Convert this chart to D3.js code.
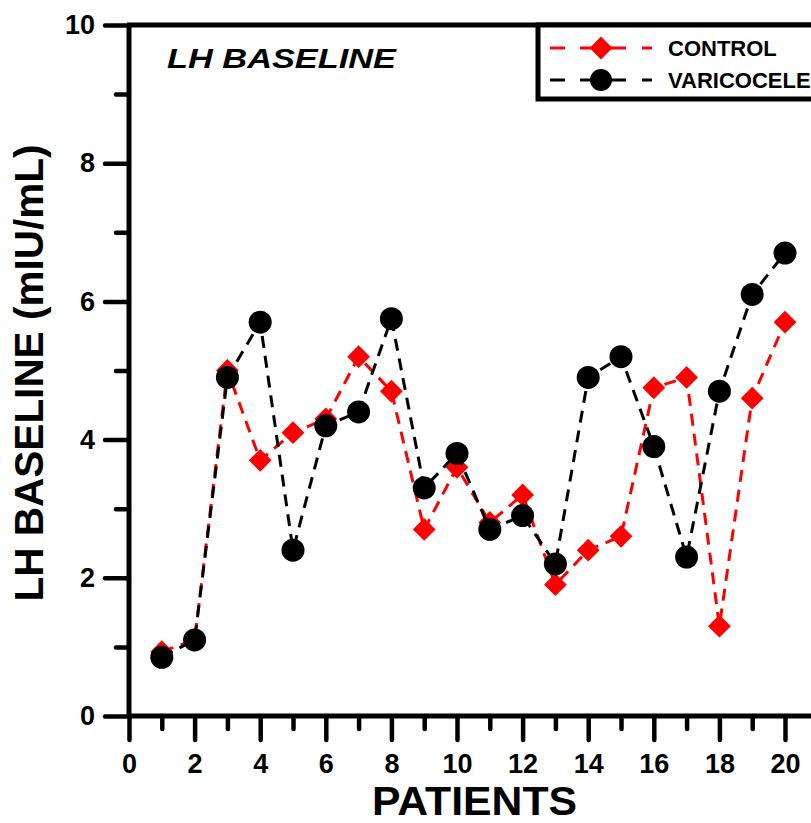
<!DOCTYPE html>
<html>
<head>
<meta charset="utf-8">
<script src="https://cdn.jsdelivr.net/npm/d3@7"></script>
<style>
  body { margin: 0; background: #fff; }
  text { font-family: Arial, "Liberation Sans", sans-serif; font-weight: bold; }
</style>
</head>
<body>
<div class="chart"></div>
<script>
// data
var patients = [1, 2, 3, 4, 5, 6, 7, 8, 9, 10, 11, 12, 13, 14, 15, 16, 17, 18, 19, 20];
var control = [0.93, 1.1, 5.0, 3.7, 4.1, 4.3, 5.2, 4.7, 2.7, 3.6, 2.8, 3.2, 1.9, 2.4, 2.6, 4.75, 4.9, 1.3, 4.6, 5.7];
var varicocele = [0.85, 1.1, 4.9, 5.7, 2.4, 4.2, 4.4, 5.75, 3.3, 3.8, 2.7, 2.9, 2.2, 4.9, 5.2, 3.9, 2.3, 4.7, 6.1, 6.7];
var xMajor = [0, 2, 4, 6, 8, 10, 12, 14, 16, 18, 20];
var xMinor = [1, 3, 5, 7, 9, 11, 13, 15, 17, 19];
var yMajor = [0, 2, 4, 6, 8, 10];
var yMinor = [1, 3, 5, 7, 9];

var width = 811, height = 823;
var plotLeft = 129, plotTop = 25, plotBottom = 716;

var svg = d3.select(".chart").append("svg")
            .attr("width", width)
            .attr("height", height);

var x = d3.scaleLinear().domain([0, 20]).range([plotLeft, 785]);
var y = d3.scaleLinear().domain([0, 10]).range([plotBottom, plotTop]);

function styleAxis(g, size) {
  g.select(".domain").remove();
  g.selectAll(".tick line").attr("stroke", "#000").attr("stroke-width", 4.5).attr("stroke-linecap", "round");
  g.selectAll(".tick text").attr("fill", "#000").style("font-size", size + "px");
}

// axes
svg.append("g").attr("transform", "translate(" + plotLeft + ",0)")
   .call(d3.axisLeft(y).tickValues(yMajor).tickSize(24).tickPadding(10))
   .call(styleAxis, 27);
svg.append("g").attr("transform", "translate(" + plotLeft + ",0)")
   .call(d3.axisLeft(y).tickValues(yMinor).tickSize(13).tickFormat(""))
   .call(styleAxis, 27);
svg.append("g").attr("transform", "translate(0," + plotBottom + ")")
   .call(d3.axisBottom(x).tickValues(xMajor).tickSize(24).tickPadding(14))
   .call(styleAxis, 27);
svg.append("g").attr("transform", "translate(0," + plotBottom + ")")
   .call(d3.axisBottom(x).tickValues(xMinor).tickSize(13).tickFormat(""))
   .call(styleAxis, 27);

// frame
svg.append("line").attr("x1", plotLeft).attr("x2", plotLeft).attr("y1", plotTop).attr("y2", plotBottom)
   .attr("stroke", "#000").attr("stroke-width", 5);
svg.append("line").attr("x1", plotLeft - 2).attr("x2", width).attr("y1", plotBottom).attr("y2", plotBottom)
   .attr("stroke", "#000").attr("stroke-width", 5);
svg.append("line").attr("x1", plotLeft - 2).attr("x2", width).attr("y1", plotTop).attr("y2", plotTop)
   .attr("stroke", "#000").attr("stroke-width", 5);

// titles
svg.append("text")
   .attr("x", 372).attr("y", 815)
   .attr("textLength", 205).attr("lengthAdjust", "spacingAndGlyphs")
   .style("font-size", "40px")
   .text("PATIENTS");
svg.append("text")
   .attr("transform", "translate(43,373) rotate(-90)")
   .attr("text-anchor", "middle")
   .style("font-size", "40.5px")
   .text("LH BASELINE (mIU/mL)");
svg.append("text")
   .attr("x", 167).attr("y", 68)
   .attr("textLength", 229).attr("lengthAdjust", "spacingAndGlyphs")
   .style("font-size", "28px").style("font-style", "italic")
   .text("LH BASELINE");

var diamond = d3.symbol().type(d3.symbolSquare).size(260);

function drawSeries(values, color, isCircle) {
  var line = d3.line()
               .x(function(d, i) { return x(patients[i]); })
               .y(function(d) { return y(d); });
  svg.append("path")
     .datum(values)
     .attr("d", line)
     .attr("fill", "none")
     .attr("stroke", color)
     .attr("stroke-width", 3)
     .attr("stroke-dasharray", "12,8");
  if (isCircle) {
    svg.selectAll(null).data(values).enter().append("circle")
       .attr("cx", function(d, i) { return x(patients[i]); })
       .attr("cy", function(d) { return y(d); })
       .attr("r", 11.5)
       .attr("fill", color);
  } else {
    svg.selectAll(null).data(values).enter().append("path")
       .attr("d", diamond)
       .attr("transform", function(d, i) { return "translate(" + x(patients[i]) + "," + y(d) + ") rotate(45)"; })
       .attr("fill", color);
  }
}

drawSeries(control, "#ff0000", false);
drawSeries(varicocele, "#000000", true);

// legend
var legend = svg.append("g");
legend.append("rect")
      .attr("x", 538).attr("y", plotTop).attr("width", 320).attr("height", 74)
      .attr("fill", "#fff").attr("stroke", "#000").attr("stroke-width", 5);

var legendItems = [
  { name: "CONTROL", color: "#ff0000", circle: false, y: 48 },
  { name: "VARICOCELE", color: "#000000", circle: true, y: 80 }
];
legendItems.forEach(function(item) {
  [[550, 565], [580, 626], [642, 652]].forEach(function(seg) {
    legend.append("line")
          .attr("x1", seg[0]).attr("x2", seg[1]).attr("y1", item.y).attr("y2", item.y)
          .attr("stroke", item.color).attr("stroke-width", 3);
  });
  if (item.circle) {
    legend.append("circle").attr("cx", 601).attr("cy", item.y).attr("r", 11).attr("fill", item.color);
  } else {
    legend.append("path").attr("d", diamond)
          .attr("transform", "translate(601," + item.y + ") rotate(45)")
          .attr("fill", item.color);
  }
  legend.append("text")
        .attr("x", 668).attr("y", item.y + 8)
        .style("font-size", "22px")
        .text(item.name);
});
</script>
</body>
</html>
